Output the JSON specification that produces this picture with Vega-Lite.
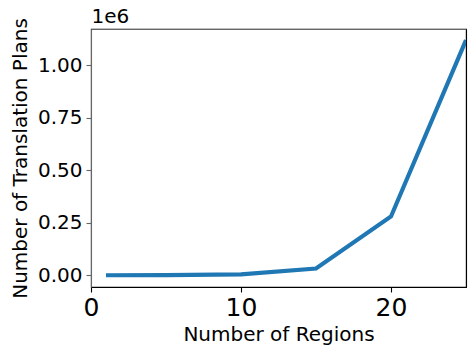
{
  "$schema": "https://vega.github.io/schema/vega-lite/v6.json",
  "autosize": "none",
  "width": 375,
  "height": 258,
  "padding": {"left": 91, "top": 29, "right": 2, "bottom": 60},
  "background": "white",
  "config": {
    "view": {"stroke": "black", "strokeWidth": 1.1},
    "font": "DejaVu Sans",
    "axis": {"grid": false, "labelFont": "DejaVu Sans", "titleFont": "DejaVu Sans", "titleFontWeight": "normal", "labelColor": "black", "titleColor": "black", "labelFlush": false}
  },
  "data": {
    "values": [
      {"regions": 1, "plans": 1},
      {"regions": 5, "plans": 300},
      {"regions": 10, "plans": 4500},
      {"regions": 15, "plans": 32000},
      {"regions": 20, "plans": 280000},
      {"regions": 25, "plans": 1120000}
    ]
  },
  "resolve": {"axis": {"x": "independent", "y": "independent"}},
  "layer": [
    {
      "mark": {"type": "line", "color": "#1f77b4", "strokeWidth": 4.2, "clip": true},
      "encoding": {
        "x": {
          "field": "regions", "type": "quantitative",
          "scale": {"domain": [0, 25], "nice": false, "zero": false},
          "axis": {
            "title": "Number of Regions", "titleFontSize": 20, "titlePadding": 4,
            "values": [0, 10, 20], "labelFontSize": 25, "labelPadding": 3,
            "tickSize": 5, "tickColor": "black", "domainColor": "black", "domainWidth": 1.1, "tickWidth": 1.1
          }
        },
        "y": {
          "field": "plans", "type": "quantitative",
          "scale": {"domain": [-56000, 1173000], "nice": false, "zero": false},
          "axis": {
            "title": "Number of Translation Plans", "titleFontSize": 20, "titlePadding": 7,
            "values": [0, 250000, 500000, 750000, 1000000],
            "labelExpr": "format(datum.value / 1000000, '.2f')",
            "labelFontSize": 20, "labelPadding": 4,
            "tickSize": 5, "tickColor": "#666666", "domainColor": "#666666", "domainWidth": 1.1, "tickWidth": 1.1
          }
        }
      }
    },
    {
      "mark": {"type": "line", "opacity": 0},
      "encoding": {
        "x": {
          "field": "regions", "type": "quantitative",
          "scale": {"domain": [0, 25], "nice": false, "zero": false},
          "axis": {"orient": "top", "title": "1e6", "titleFontSize": 20, "titleAnchor": "start", "titleAlign": "left", "titlePadding": 3, "labels": false, "ticks": false, "domainColor": "#666666", "domainWidth": 1.1}
        },
        "y": {
          "field": "plans", "type": "quantitative",
          "scale": {"domain": [-56000, 1173000], "nice": false, "zero": false},
          "axis": {"orient": "right", "title": null, "labels": false, "ticks": false, "domainColor": "black", "domainWidth": 1.1}
        }
      }
    }
  ]
}
